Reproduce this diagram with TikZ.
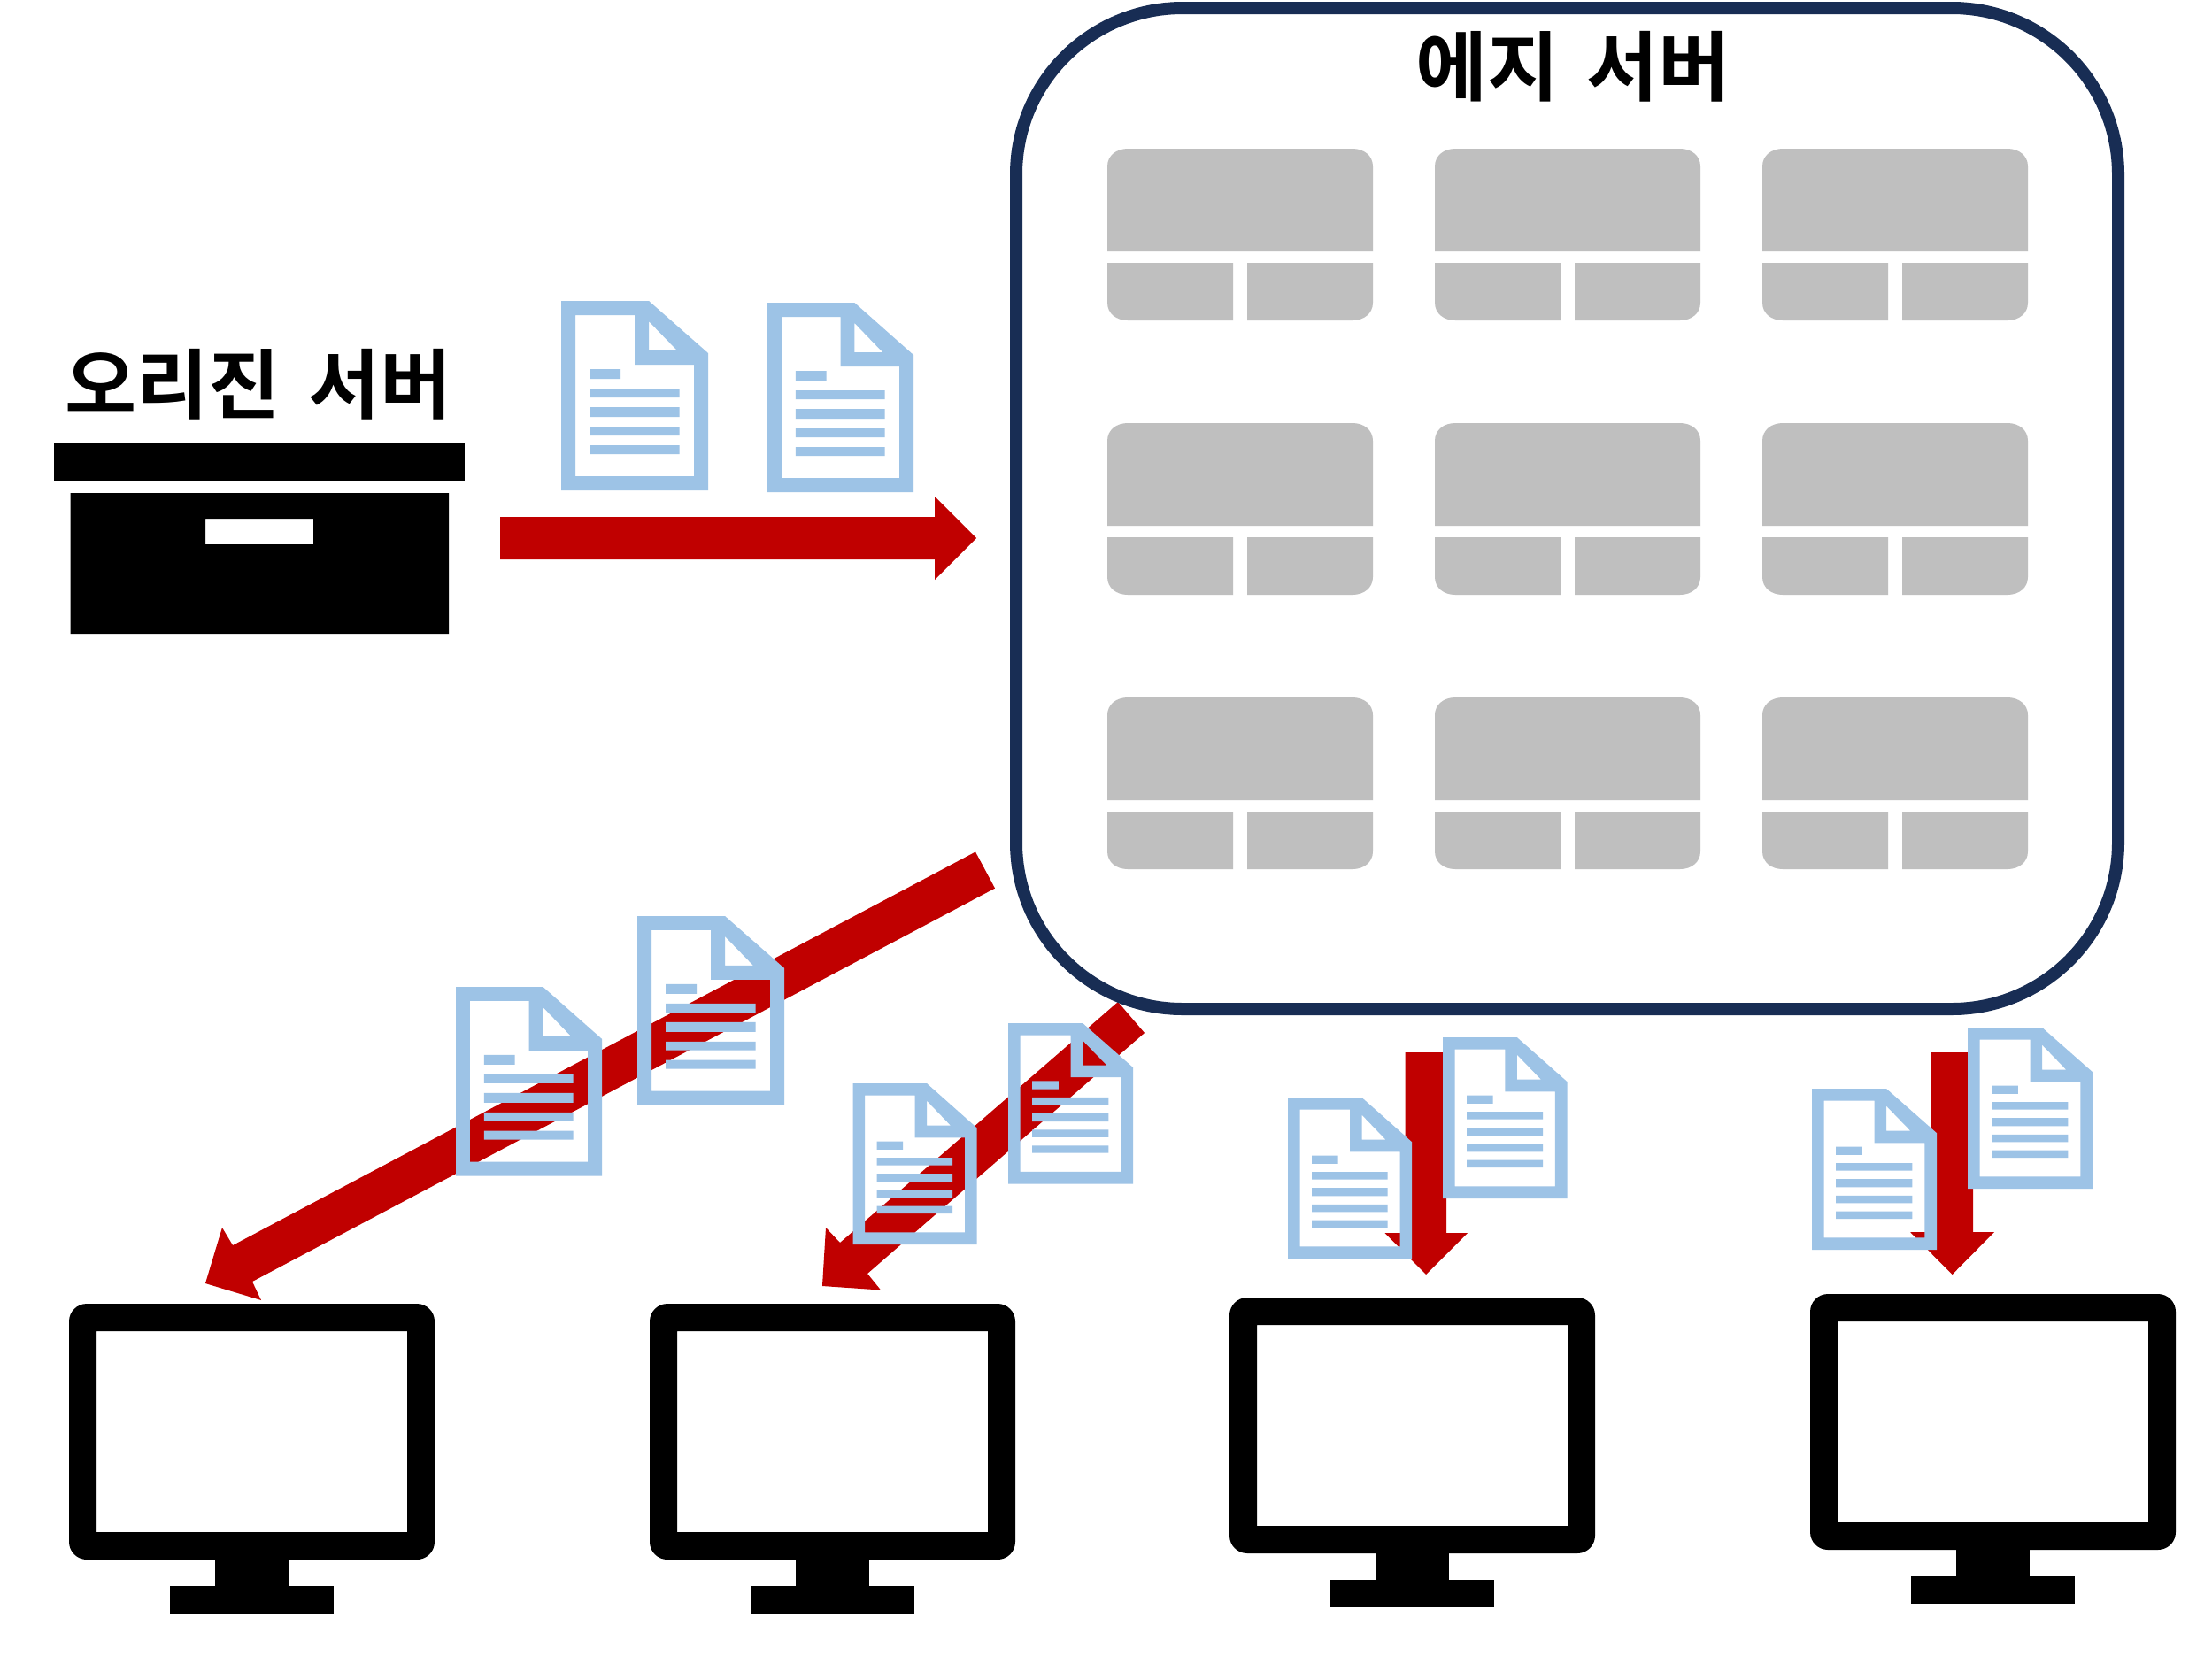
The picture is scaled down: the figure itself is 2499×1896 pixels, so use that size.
\documentclass[tikz,border=0pt]{standalone}
\usepackage{fontspec}
\newfontfamily\krfont[Script=Hangul]{Noto Sans CJK KR Bold}
\definecolor{docblue}{HTML}{9DC3E6}
\definecolor{arrowred}{HTML}{C00000}
\definecolor{framenavy}{HTML}{182D54}
\definecolor{srvgray}{HTML}{BFBFBF}
\tikzset{
  titletext/.style={inner sep=0pt,font=\krfont\fontsize{86pt}{96pt}\selectfont,text=black},
  blockarrow/.style={fill=arrowred,draw=none},
}
\newcommand{\docicon}[4]{%
  \begin{scope}[shift={(#1,#2)},xscale={#3/166},yscale={#4/214}]
    \fill[docblue,even odd rule]
      (0,0) -- (99,0) -- (166,59) -- (166,214) -- (0,214) -- cycle
      (16,16) -- (83,16) -- (83,72) -- (150,72) -- (150,198) -- (16,198) -- cycle
      (99,23) -- (99,56) -- (131,56) -- cycle
      (32,77) rectangle (67,88)
      (32,99) rectangle (133.5,109)
      (32,120) rectangle (133.5,131)
      (32,142) rectangle (133.5,152)
      (32,163) rectangle (133.5,173);
  \end{scope}}
\newcommand{\servercell}[2]{%
  \begin{scope}[shift={(#1,#2)}]
    \fill[srvgray] (0,116) -- (0,20) .. controls (0,8) and (10,0) .. (23,0)
      -- (277,0) .. controls (290,0) and (300,8) .. (300,20) -- (300,116) -- cycle;
    \fill[srvgray] (0,129) -- (142,129) -- (142,194) -- (23,194)
      .. controls (10,194) and (0,186) .. (0,174) -- cycle;
    \fill[srvgray] (158,129) -- (300,129) -- (300,174)
      .. controls (300,186) and (290,194) .. (277,194) -- (158,194) -- cycle;
  \end{scope}}
\newcommand{\monitoricon}[2]{%
  \begin{scope}[shift={(#1,#2)}]
    \fill[black,even odd rule,rounded corners=20pt] (78,1473) rectangle (491,1762)
      [sharp corners] (109,1504) rectangle (460,1731);
    \fill[black] (243,1760) rectangle (326,1795);
    \fill[black] (192,1792) rectangle (377,1823);
  \end{scope}}
\begin{document}
\begin{tikzpicture}[x=1pt,y=-1pt]
\useasboundingbox (0,0) rectangle (2499,1896);
\fill[white] (0,0) rectangle (2499,1896);

% block arrows
\fill[blockarrow] (565,584) -- (1056,584) -- (1056,561) -- (1103,608) -- (1056,655) -- (1056,632) -- (565,632) -- cycle;
\fill[blockarrow] (1102,962.5) -- (1124,1003.6) -- (285,1448) -- (295,1469) -- (232,1450) -- (251,1387) -- (263,1407) -- cycle;
\fill[blockarrow] (1263,1132) -- (1293,1167) -- (980,1439) -- (995,1457.5) -- (929,1453) -- (933,1387) -- (949,1404) -- cycle;
\fill[blockarrow] (1587.5,1189) -- (1634,1189) -- (1634,1393) -- (1658,1393) -- (1611,1440) -- (1564.5,1393) -- (1587.5,1393) -- cycle;
\fill[blockarrow] (2182,1189) -- (2229,1189) -- (2229,1392) -- (2253,1392) -- (2205.5,1440) -- (2158,1392) -- (2182,1392) -- cycle;

% edge server frame
\draw[framenavy,line width=14pt,rounded corners=188pt] (1148,9) rectangle (2393,1140);
\node[titletext] (edgetitle) at (1777,75) {\scalebox{1.025}[1]{에지 \hspace{11pt}서버}};

\foreach \cx in {1251,1621,1991}
  \foreach \cy in {168,478,788}
    {\servercell{\cx}{\cy}}

% origin server
\node[titletext] (origintitle) at (292,434.5) {\scalebox{1.025}[1]{오리진 \hspace{11pt}서버}};
\fill[black] (61,500) rectangle (525,543);
\fill[black,even odd rule] (79.5,557) rectangle (507,716) (232,586) rectangle (354,615);

% documents
\docicon{634}{340}{166}{214}
\docicon{867}{342}{165}{214}
\docicon{515}{1115}{165}{213.6}
\docicon{720}{1035}{166}{213.6}
\docicon{963.5}{1224}{140}{182}
\docicon{1139}{1156}{141}{181.5}
\docicon{1455}{1240}{140}{182}
\docicon{1630}{1172}{140.5}{182}
\docicon{2047}{1230}{141}{182}
\docicon{2223}{1161}{141}{182}

% monitors
\monitoricon{0}{0}
\monitoricon{656}{0}
\monitoricon{1311}{-7}
\monitoricon{1967}{-11}
\end{tikzpicture}
\end{document}
